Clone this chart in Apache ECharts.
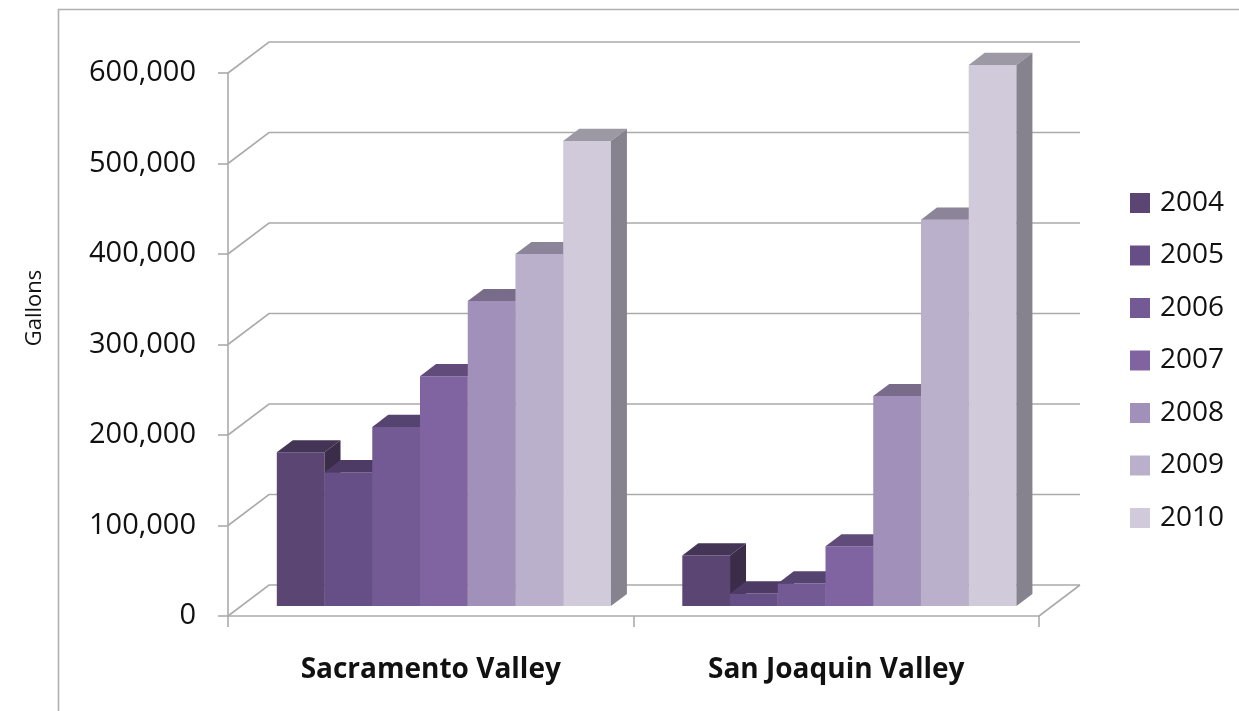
<!DOCTYPE html>
<html>
<head>
<meta charset="utf-8">
<script src="https://cdn.jsdelivr.net/npm/echarts@6/dist/echarts.min.js"></script>
<style>
  html, body { margin: 0; padding: 0; background: #ffffff; }
  #chart { width: 1239px; height: 711px; }
</style>
</head>
<body>
<div id="chart"></div>
<script>
// Regions on the category axis
const categories = ['Sacramento Valley', 'San Joaquin Valley'];

// One series per year (gallons, [Sacramento, San Joaquin])
const years = ['2004', '2005', '2006', '2007', '2008', '2009', '2010'];
const gallons2004 = [170000, 56000];
const gallons2005 = [148000, 14000];
const gallons2006 = [198000, 25000];
const gallons2007 = [254000, 66000];
const gallons2008 = [337000, 232000];
const gallons2009 = [389000, 427000];
const gallons2010 = [514000, 598000];
const seriesValues = [gallons2004, gallons2005, gallons2006, gallons2007,
                      gallons2008, gallons2009, gallons2010];

// Value-axis ticks
const yTicks = [0, 100000, 200000, 300000, 400000, 500000, 600000];

// Front-face colour per year
const yearColors = ['#5b4572', '#664f86', '#735a95', '#8064a2',
                    '#a190b9', '#bab0cb', '#d0cadb'];

const FONT = 'Open Sans';
const LINE = '#ababab';
const WALL_DX = 41, WALL_DY = 31;      // floor / back wall depth in px
const BAR_FRONT = 0.32, BAR_DEPTH = 0.39; // bar placement within that depth
const GROUP_FILL = 0.824;               // share of a category band used by bars

function shade(hex, k) {
  const n = parseInt(hex.slice(1), 16);
  const r = Math.round(((n >> 16) & 255) * k);
  const g = Math.round(((n >> 8) & 255) * k);
  const b = Math.round((n & 255) * k);
  return 'rgb(' + r + ',' + g + ',' + b + ')';
}

// Back wall gridlines and floor outline
function renderWall(params, api) {
  const cs = params.coordSys;
  const v = api.value(1);
  const y = api.coord([0, v])[1];
  const xL = cs.x, xR = cs.x + cs.width;
  const st = { stroke: LINE, lineWidth: 1.6, fill: null };
  const children = [{
    type: 'polyline',
    shape: { points: [[xL, y], [xL + WALL_DX, y - WALL_DY], [xR + WALL_DX, y - WALL_DY]] },
    style: st
  }];
  if (v === 0) {
    children.push({
      type: 'line',
      shape: { x1: xR, y1: y, x2: xR + WALL_DX, y2: y - WALL_DY },
      style: st
    });
  }
  return { type: 'group', children: children };
}

// Box-shaped bar: front face, top face, right side face
function barRenderer(pos, color) {
  const topColor = shade(color, 0.75);
  const sideColor = shade(color, 0.65);
  return function (params, api) {
    const cat = api.value(0), val = api.value(1);
    const base = api.coord([cat, 0]);
    const top = api.coord([cat, val]);
    const band = api.size([1, 0])[0];
    const groupW = band * GROUP_FILL;
    const w = groupW / years.length;
    const ox = WALL_DX * BAR_FRONT, oy = WALL_DY * BAR_FRONT;
    const dx = WALL_DX * BAR_DEPTH, dy = WALL_DY * BAR_DEPTH;
    const x0 = base[0] - groupW / 2 + pos * w + ox;
    const x1 = x0 + w;
    const yb = base[1] - oy, yt = top[1] - oy;
    return {
      type: 'group',
      children: [
        { type: 'rect', shape: { x: x0, y: yt, width: w, height: yb - yt }, style: { fill: color } },
        { type: 'polygon', shape: { points: [[x0, yt], [x1, yt], [x1 + dx, yt - dy], [x0 + dx, yt - dy]] },
          style: { fill: topColor } },
        { type: 'polygon', shape: { points: [[x1, yt], [x1 + dx, yt - dy], [x1 + dx, yb - dy], [x1, yb]] },
          style: { fill: sideColor } }
      ]
    };
  };
}

const series = [{
  name: 'wall',
  type: 'custom',
  renderItem: renderWall,
  data: yTicks.map(function (v) { return [0, v]; }),
  silent: true,
  z: 1
}];
years.forEach(function (yr, i) {
  series.push({
    name: yr,
    type: 'custom',
    renderItem: barRenderer(i, yearColors[i]),
    itemStyle: { color: yearColors[i] },
    data: seriesValues[i].map(function (v, c) { return [c, v]; }),
    z: 2
  });
});

const chart = echarts.init(document.getElementById('chart'), null, { renderer: 'canvas' });
chart.setOption({
  backgroundColor: '#ffffff',
  animation: false,
  textStyle: { fontFamily: FONT },
  grid: { left: 228, right: 200, top: 73, bottom: 95 },
  xAxis: {
    type: 'category',
    data: categories,
    axisLine: { show: true, lineStyle: { color: LINE, width: 1.6 } },
    axisTick: { show: true, length: 11, alignWithLabel: false, lineStyle: { color: LINE, width: 1.6 } },
    axisLabel: { margin: 40, fontFamily: FONT, fontSize: 28, fontWeight: 'bold', color: '#111' },
    splitLine: { show: false }
  },
  yAxis: {
    type: 'value',
    min: 0,
    max: 600000,
    interval: 100000,
    axisLine: { show: true, lineStyle: { color: LINE, width: 1.6 } },
    axisTick: { show: true, length: 10, lineStyle: { color: LINE, width: 1.6 } },
    axisLabel: {
      margin: 32, fontFamily: FONT, fontSize: 29, color: '#111',
      formatter: function (v) { return v.toLocaleString('en-US'); }
    },
    splitLine: { show: false }
  },
  legend: {
    orient: 'vertical',
    left: 1125,
    top: 184,
    data: years.map(function (y) { return { name: y, icon: 'rect' }; }),
    itemWidth: 20,
    itemHeight: 20,
    itemGap: 24.5,
    textStyle: { fontFamily: FONT, fontSize: 28, lineHeight: 28, color: '#111', padding: [0, 0, 0, 5] }
  },
  graphic: [
    { type: 'rect', left: 56, top: 7, shape: { width: 1300, height: 800 },
      style: { fill: null, stroke: '#b0b0b0', lineWidth: 1.6 }, silent: true, z: 0 },
    { type: 'text', x: 35, y: 308, rotation: Math.PI / 2,
      style: { text: 'Gallons', fontFamily: FONT, fontSize: 22, fill: '#111',
               align: 'center', verticalAlign: 'middle' } }
  ],
  series: series
});
</script>
</body>
</html>
